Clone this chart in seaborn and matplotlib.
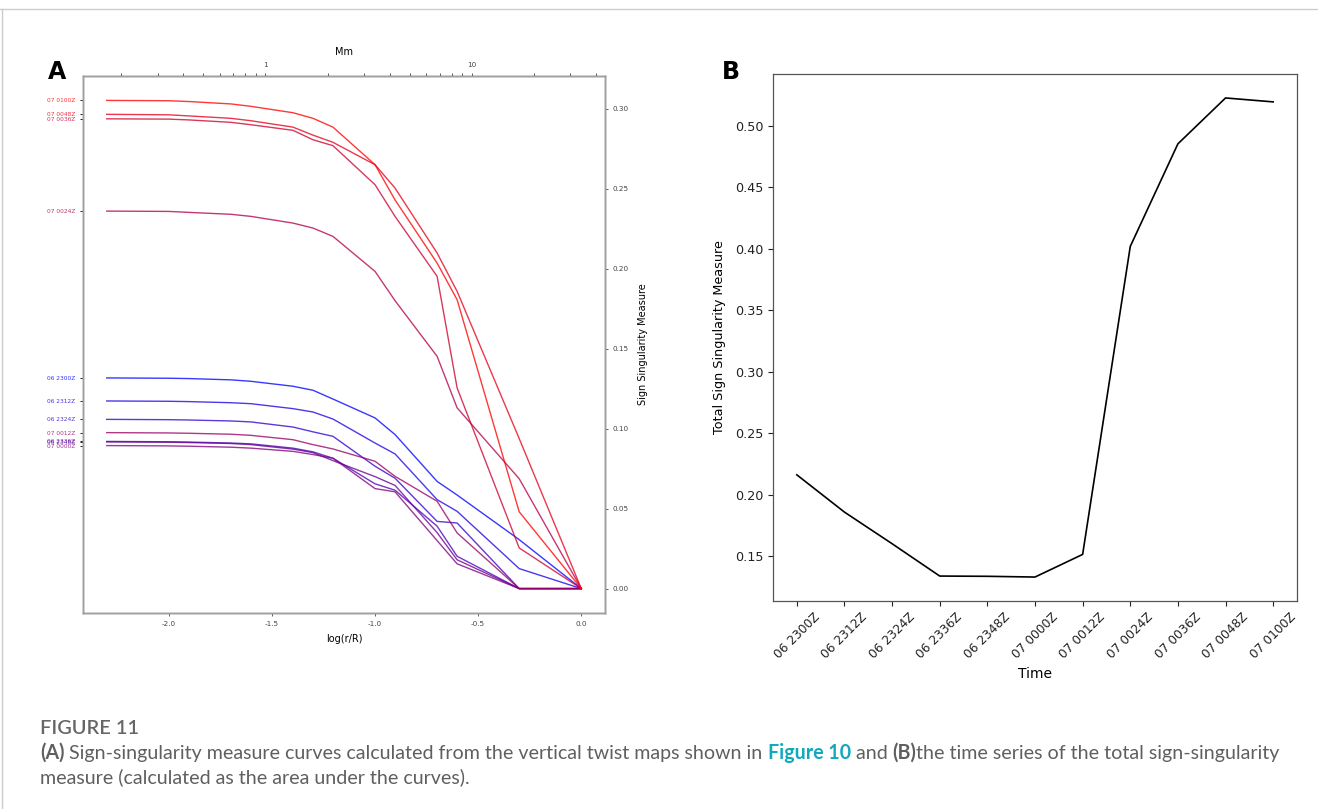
import numpy as np
import pandas as pd
import matplotlib
matplotlib.use("Agg")
import matplotlib.pyplot as plt
import seaborn as sns
from matplotlib.ticker import FuncFormatter, NullFormatter, LogLocator
from matplotlib.lines import Line2D

# ---------------- data ----------------
times = ["06 2300Z", "06 2312Z", "06 2324Z", "06 2336Z", "06 2348Z", "07 0000Z",
         "07 0012Z", "07 0024Z", "07 0036Z", "07 0048Z", "07 0100Z"]

log_r = [-2.301, -2.0, -1.903, -1.699, -1.602, -1.398, -1.301, -1.204,
         -1.0, -0.903, -0.699, -0.602, -0.301, 0.0]

ssm_0623_00 = [0.1317, 0.1315, 0.1313, 0.1305, 0.1296, 0.1265, 0.1240, 0.1185, 0.1067, 0.0963, 0.0670, 0.0585, 0.0306, 0.0]
ssm_0623_12 = [0.1173, 0.1171, 0.1169, 0.1162, 0.1156, 0.1125, 0.1104, 0.1060, 0.0910, 0.0842, 0.0556, 0.0483, 0.0125, 0.0]
ssm_0623_24 = [0.1058, 0.1056, 0.1054, 0.1048, 0.1042, 0.1010, 0.0980, 0.0952, 0.0765, 0.0690, 0.0420, 0.0410, 0.0, 0.0]
ssm_0623_36 = [0.0920, 0.0918, 0.0916, 0.0910, 0.0905, 0.0878, 0.0855, 0.0815, 0.0655, 0.0615, 0.0390, 0.0202, 0.0, 0.0]
ssm_0623_48 = [0.0917, 0.0915, 0.0913, 0.0907, 0.0900, 0.0872, 0.0850, 0.0800, 0.0700, 0.0645, 0.0350, 0.0180, 0.0, 0.0]
ssm_0700_00 = [0.0894, 0.0892, 0.0890, 0.0884, 0.0878, 0.0858, 0.0838, 0.0815, 0.0625, 0.0605, 0.0300, 0.0155, 0.0, 0.0]
ssm_0700_12 = [0.0975, 0.0973, 0.0971, 0.0965, 0.0958, 0.0931, 0.0900, 0.0873, 0.0796, 0.0702, 0.0546, 0.0348, 0.0, 0.0]
ssm_0700_24 = [0.2360, 0.2358, 0.2352, 0.2340, 0.2327, 0.2285, 0.2254, 0.2202, 0.1983, 0.1800, 0.1452, 0.1130, 0.0687, 0.0]
ssm_0700_36 = [0.2937, 0.2935, 0.2930, 0.2915, 0.2900, 0.2865, 0.2806, 0.2769, 0.2525, 0.2327, 0.1952, 0.1254, 0.0254, 0.0]
ssm_0700_48 = [0.2965, 0.2962, 0.2955, 0.2940, 0.2925, 0.2885, 0.2835, 0.2790, 0.2650, 0.2504, 0.2098, 0.1858, 0.0938, 0.0]
ssm_0701_00 = [0.3052, 0.3050, 0.3045, 0.3030, 0.3015, 0.2975, 0.2940, 0.2885, 0.2650, 0.2430, 0.2035, 0.1806, 0.0480, 0.0]

curves = [ssm_0623_00, ssm_0623_12, ssm_0623_24, ssm_0623_36, ssm_0623_48, ssm_0700_00,
          ssm_0700_12, ssm_0700_24, ssm_0700_36, ssm_0700_48, ssm_0701_00]

total_ssm = [0.2163, 0.1860, 0.1603, 0.1340, 0.1338, 0.1332, 0.1516, 0.4020, 0.4854, 0.5227, 0.5195]

R_MM = 34.0  # radius R in Mm for the top axis

# ---------------- figure ----------------
W, H = 1318, 809
plt.rcParams["axes.unicode_minus"] = False
fig = plt.figure(figsize=(W / 100, H / 100), dpi=100)
fig.patch.set_facecolor("white")

def fx(px):
    return px / W

def fy(py):
    return 1 - py / H

# ---------- panel A ----------
axA = fig.add_axes([fx(83), fy(613), (605 - 83) / W, (613 - 76) / H])
rows = []
for t, c in zip(times, curves):
    for x, v in zip(log_r, c):
        rows.append((t, x, v))
dfA = pd.DataFrame(rows, columns=["time", "logr", "ssm"])
n = len(times)
palette = {t: (i / (n - 1), 0.0, 1 - i / (n - 1)) for i, t in enumerate(times)}
sns.lineplot(data=dfA, x="logr", y="ssm", hue="time", hue_order=times, palette=palette,
             estimator=None, sort=False, legend=False, lw=1.0, alpha=0.78, ax=axA)
axA.set_xlabel("log(r/R)", fontsize=7, labelpad=5)
axA.set_ylabel("")
axA.set_xticks([-2.0, -1.5, -1.0, -0.5, 0.0])
axA.set_xticklabels(["-2.0", "-1.5", "-1.0", "-0.5", "0.0"])
axA.tick_params(axis="x", labelsize=5.2, length=2, width=0.6, colors="#444")
firsts = [c[0] for c in curves]
axA.set_yticks(firsts)
axA.set_yticklabels(times)
axA.tick_params(axis="y", labelsize=4.2, length=2, width=0.6)
for lab, t in zip(axA.get_yticklabels(), times):
    lab.set_color(palette[t])
    lab.set_alpha(0.8)
ylimA = axA.get_ylim()
xlimA = axA.get_xlim()

axR = axA.twinx()
axR.set_ylim(ylimA)
axR.set_yticks([0.0, 0.05, 0.10, 0.15, 0.20, 0.25, 0.30])
axR.set_yticklabels(["0.00", "0.05", "0.10", "0.15", "0.20", "0.25", "0.30"])
axR.tick_params(axis="y", labelsize=5.2, length=2, width=0.6, colors="#444")
axR.set_ylabel("Sign Singularity Measure", fontsize=7, labelpad=7)

axT = axA.twiny()
axT.set_xscale("log")
axT.set_xlim(R_MM * 10 ** xlimA[0], R_MM * 10 ** xlimA[1])
axT.xaxis.set_major_locator(LogLocator(base=10))
axT.xaxis.set_major_formatter(FuncFormatter(lambda v, p: f"{v:g}"))
axT.xaxis.set_minor_locator(LogLocator(base=10, subs=np.arange(2, 10)))
axT.xaxis.set_minor_formatter(NullFormatter())
axT.tick_params(axis="x", which="both", labelsize=5.2, length=2, width=0.6, colors="#444")
axT.set_xlabel("Mm", fontsize=7, labelpad=5)

for a in (axA, axR, axT):
    for s in a.spines.values():
        s.set_color("#a0a0a0")
        s.set_linewidth(1.0)

# ---------- panel B ----------
axB = fig.add_axes([fx(773), fy(601), (1297 - 773) / W, (601 - 74) / H])
sns.lineplot(x=times, y=total_ssm, color="black", lw=1.2, sort=False, ax=axB)
axB.set_xlabel("Time", fontsize=10, labelpad=4)
axB.set_ylabel("Total Sign Singularity Measure", fontsize=9.2, labelpad=6)
axB.tick_params(axis="x", labelsize=8.8, rotation=45, length=3.5, width=0.8, colors="#222")
axB.tick_params(axis="y", labelsize=9.2, length=3.5, width=0.8, colors="#222")
axB.set_yticks([0.15, 0.20, 0.25, 0.30, 0.35, 0.40, 0.45, 0.50])
for s in axB.spines.values():
    s.set_color("#555555")
    s.set_linewidth(0.9)

# panel letters
fig.text(fx(57), fy(72), "A", fontsize=17, fontweight="bold", ha="center", va="center")
fig.text(fx(731), fy(72), "B", fontsize=17, fontweight="bold", ha="center", va="center")

# frame lines
fig.add_artist(Line2D([0, 1], [fy(8.5), fy(8.5)], color="#cccccc", lw=1.0, transform=fig.transFigure))
fig.add_artist(Line2D([fx(2), fx(2)], [fy(8.5), 0], color="#cccccc", lw=1.0, transform=fig.transFigure))

# ---------- caption ----------
renderer = fig.canvas.get_renderer()
CAP_FONT = ["Lato", "DejaVu Sans"]
grey = "#5f5f5f"
teal = "#10a9bd"

line1 = [("(A)", dict(color=grey, fontweight="bold")),
         (" Sign-singularity measure curves calculated from the vertical twist maps shown in ", dict(color=grey)),
         ("Figure 10", dict(color=teal, fontweight="bold")),
         (" and ", dict(color=grey)),
         ("(B)", dict(color=grey, fontweight="bold")),
         ("the time series of the total sign-singularity", dict(color=grey))]
line2 = [("measure (calculated as the area under the curves).", dict(color=grey))]

def seg_width(txt, size, kw):
    t = fig.text(0, 0, "|" + txt + "|", fontsize=size, family=CAP_FONT, **kw)
    t2 = fig.text(0, 0, "||", fontsize=size, family=CAP_FONT, **kw)
    w = t.get_window_extent(renderer).width - t2.get_window_extent(renderer).width
    t.remove()
    t2.remove()
    return w

base = 12.0
tot = sum(seg_width(s, base, k) for s, k in line1)
size = base * 1232.0 / tot

def draw_line(segs, x0, ybase, size):
    x = x0
    for s, k in segs:
        fig.text(fx(x), fy(ybase), s, fontsize=size, family=CAP_FONT, ha="left", va="baseline", **k)
        x += seg_width(s, size, k)

fig.text(fx(40), fy(734), "FIGURE 11", fontsize=size * 1.02, family=CAP_FONT, color="#666666",
         fontweight="semibold", ha="left", va="baseline")
draw_line(line1, 40, 759, size)
draw_line(line2, 40, 783, size)

fig.savefig("out.png", dpi=100, facecolor="white")
